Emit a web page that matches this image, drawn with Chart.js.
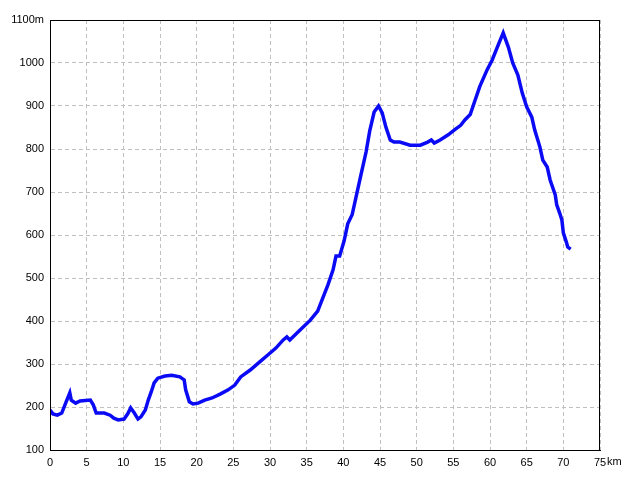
<!DOCTYPE html>
<html>
<head>
<meta charset="utf-8">
<script src="https://cdn.jsdelivr.net/npm/chart.js@4/dist/chart.umd.min.js"></script>
<style>
  html, body { margin: 0; padding: 0; background: #fff; }
  #wrap { width: 640px; height: 480px; }
</style>
</head>
<body>
<div id="wrap"><canvas id="profileChart"></canvas></div>
<script>
// distance (km) and elevation (m)
const distKm = [0, 0.4, 1.0, 1.6, 2.2, 2.7, 2.9, 3.5, 4.1, 5.5, 5.9, 6.3, 7.4, 8.2, 8.7, 9.3,
  10.1, 10.6, 11.0, 11.5, 12.0, 12.4, 13.0, 13.4, 13.8, 14.2, 14.7, 15.7, 16.6, 17.7, 18.3,
  18.5, 19.0, 19.5, 20.2, 21.1, 22.1, 23.2, 24.3, 25.2, 26.0, 27.3, 28.6, 29.7, 30.8, 31.8,
  32.3, 32.7, 34.1, 35.5, 36.5, 37.1, 37.9, 38.6, 39.0, 39.5, 40.1, 40.6, 41.2, 41.7, 42.4,
  43.1, 43.6, 44.2, 44.8, 45.3, 45.8, 46.4, 46.9, 47.7, 49.1, 50.5, 51.5, 52.0, 52.4, 53.2,
  54.3, 55.2, 56.0, 56.6, 57.3, 58.0, 58.6, 59.6, 60.3, 61.0, 61.8, 62.5, 63.1, 63.8, 64.4,
  65.0, 65.7, 66.1, 66.8, 67.2, 67.8, 68.2, 68.9, 69.1, 69.5, 69.8, 70.0, 70.4, 70.6, 71.0];
const elevM = [193, 184, 181, 186, 212, 233, 216, 209, 214, 216, 205, 186, 186, 181, 174, 170,
  172, 184, 198, 186, 172, 177, 193, 216, 235, 256, 267, 272, 274, 270, 263,
  240, 212, 207, 209, 216, 221, 230, 240, 251, 270, 286, 305, 321, 337, 356,
  363, 356, 379, 402, 423, 449, 484, 519, 551, 551, 586, 626, 647, 686, 740,
  793, 842, 886, 900, 884, 851, 821, 816, 816, 809, 809, 816, 821, 814, 821,
  833, 845, 855, 868, 880, 915, 945, 984, 1007, 1037, 1070, 1037, 1000, 972, 930,
  898, 874, 844, 805, 774, 758, 728, 693, 670, 651, 635, 605, 584, 572, 567];

const xMin = 0, xMax = 75, xStep = 5;
const yMin = 100, yMax = 1100, yStep = 100;

const points = distKm.map((d, i) => ({ x: d, y: elevM[i] }));

// frame round the plot area + "km" unit after the last x tick
const framePlugin = {
  id: "frame",
  afterDraw(chart) {
    const { ctx, chartArea: a, scales } = chart;
    ctx.save();
    ctx.strokeStyle = "#000";
    ctx.lineWidth = 1;
    ctx.strokeRect(a.left + 0.5, a.top + 0.5, a.right - a.left - 1, a.bottom - a.top);
    ctx.fillStyle = "#000";
    ctx.font = "11px 'Liberation Sans', Arial, sans-serif";
    ctx.textBaseline = "top";
    const px = scales.x.getPixelForValue(xMax);
    const w = ctx.measureText(String(xMax)).width;
    ctx.fillText("km", px + w / 2 + 1, a.bottom + 6);
    ctx.restore();
  },
};

new Chart(document.getElementById("profileChart").getContext("2d"), {
  type: "line",
  data: {
    datasets: [
      {
        data: points,
        borderColor: "#0a0af5",
        borderWidth: 3.5,
        pointRadius: 0,
        tension: 0,
        fill: false,
      },
    ],
  },
  options: {
    responsive: true,
    maintainAspectRatio: false,
    animation: false,
    layout: { padding: { left: 0, right: 40, top: 20, bottom: 0 } },
    plugins: { legend: { display: false }, tooltip: { enabled: false } },
    scales: {
      x: {
        type: "linear",
        min: xMin,
        max: xMax,
        afterFit: (s) => { s.height = 30; },
        ticks: {
          stepSize: xStep,
          color: "#000",
          padding: 6,
          maxRotation: 0,
          font: { family: "'Liberation Sans', Arial, sans-serif", size: 11 },
        },
        grid: { color: "#c0c0c0", drawTicks: false },
        border: { color: "#000", dash: [4, 3] },
      },
      y: {
        min: yMin,
        max: yMax,
        afterFit: (s) => { s.width = 50; },
        ticks: {
          stepSize: yStep,
          color: "#000",
          padding: 6,
          font: { family: "'Liberation Sans', Arial, sans-serif", size: 11 },
          callback: (v) => (v === yMax ? v + "m" : v),
        },
        grid: { color: "#c0c0c0", drawTicks: false },
        border: { color: "#000", dash: [4, 3] },
      },
    },
  },
  plugins: [framePlugin],
});
</script>
</body>
</html>
